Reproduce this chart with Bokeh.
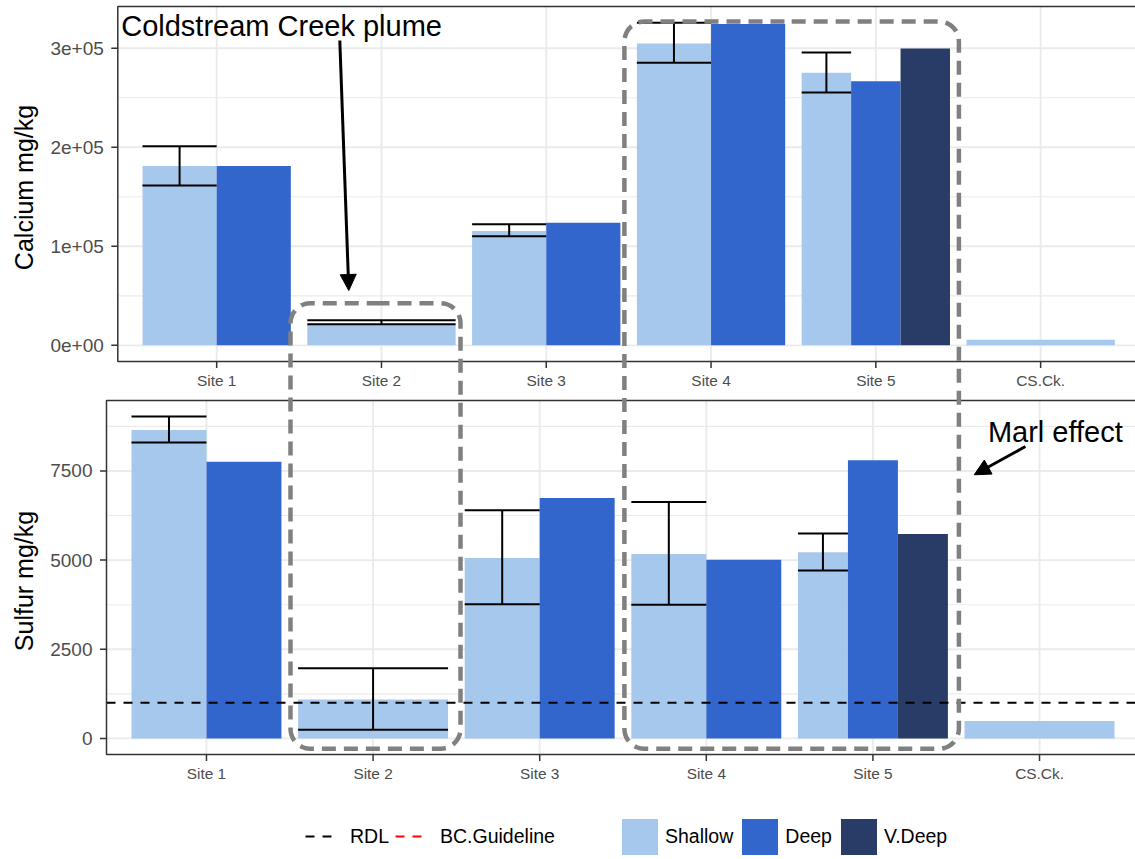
import math
import numpy as np
from bokeh.plotting import figure
from bokeh.models import Range1d, ColumnDataSource, Legend, LegendItem, Arrow, NormalHead
from bokeh.core.properties import value
from bokeh.embed import file_html
from bokeh.resources import INLINE

# ---------------- data ----------------
sites = ["Site 1", "Site 2", "Site 3", "Site 4", "Site 5", "CS.Ck."]
series = ["Shallow", "Deep", "V.Deep"]

ca_shallow = [181000, 20800, 115500, 304700, 275100, 5700]
ca_deep = [181000, None, 123900, 324500, 266700, None]
ca_vdeep = [None, None, None, None, 299700, None]
ca_err_lo = [161300, 21200, 110100, 285400, 255200, None]
ca_err_hi = [201000, 25300, 122200, 325800, 295600, None]

s_shallow = [8650, 1090, 5060, 5170, 5220, 485]
s_deep = [7760, None, 6740, 5010, 7800, None]
s_vdeep = [None, None, None, None, 5735, None]
s_err_lo = [8300, 240, 3765, 3745, 4710, None]
s_err_hi = [9025, 1970, 6400, 6630, 5745, None]

ca_ticks = [0, 100000, 200000, 300000]
s_ticks = [0, 2500, 5000, 7500]
rdl_sulfur = 1000
bc_guideline_sulfur = float("nan")  # no BC guideline drawn in the visible panels

colors = {"Shallow": "#A6C8EC", "Deep": "#3366CC", "V.Deep": "#283C67"}

# ---------------- layout (pixels, y measured downward) ----------------
W, H = 1135, 859
TOP = dict(left=117.3, right=1139.0, top=6.0, bottom=361.0)
BOT = dict(left=106.0, right=1139.0, top=400.0, bottom=754.0)
FONT = value("Liberation Sans")
GRID = "#EBEBEB"
DARK = "#333333"
TICKTXT = "#4D4D4D"


def Y(yd):
    return H - yd


def span_range(v0, v1, p0, p1, total):
    k = (p1 - p0) / (v1 - v0)
    return Range1d(start=v0 - p0 / k, end=v0 + (total - p0) / k)


def limits(*lists):
    vmax = max(v for lst in lists for v in lst if v is not None)
    return -0.05 * vmax, 1.05 * vmax


x_lo, x_hi = 0.4, len(sites) + 0.6
ca_lo, ca_hi = limits(ca_shallow, ca_deep, ca_vdeep, ca_err_hi)
s_lo, s_hi = limits(s_shallow, s_deep, s_vdeep, s_err_hi)

p = figure(width=W, height=H, x_range=Range1d(0, W), y_range=Range1d(0, H),
           x_axis_type=None, y_axis_type=None, output_backend="svg",
           toolbar_location=None, tools="", min_border=0, outline_line_color=None)
p.background_fill_color = "white"
p.border_fill_color = "white"

p.extra_x_ranges = {
    "xt": span_range(x_lo, x_hi, TOP["left"], TOP["right"], W),
    "xb": span_range(x_lo, x_hi, BOT["left"], BOT["right"], W),
}
p.extra_y_ranges = {
    "ca": span_range(ca_lo, ca_hi, Y(TOP["bottom"]), Y(TOP["top"]), H),
    "s": span_range(s_lo, s_hi, Y(BOT["bottom"]), Y(BOT["top"]), H),
}


def dodge(vals):
    out = {s: dict(x=[], top=[], w=[], site=[]) for s in series}
    for i in range(len(sites)):
        present = [s for s in series if vals[s][i] is not None]
        n = len(present)
        w = 0.9 / n
        for j, s in enumerate(present):
            out[s]["x"].append(i + 1 - 0.45 + w * (j + 0.5))
            out[s]["top"].append(vals[s][i])
            out[s]["w"].append(w)
            out[s]["site"].append(i)
    return out


def draw_panel(xr, yr, pan, lo, hi, ticks, tick_labels, label_x, vals, err_lo, err_hi, title):
    # minor + major grid
    step = ticks[1] - ticks[0]
    minors = [t + step / 2 for t in [ticks[0] - step] + ticks]
    minors = [m for m in minors if lo < m < hi]
    p.segment(x0=[x_lo] * len(minors), x1=[x_hi] * len(minors), y0=minors, y1=minors,
              line_color=GRID, line_width=1.1, x_range_name=xr, y_range_name=yr)
    p.segment(x0=[x_lo] * len(ticks), x1=[x_hi] * len(ticks), y0=ticks, y1=ticks,
              line_color=GRID, line_width=1.9, x_range_name=xr, y_range_name=yr)
    pos = list(range(1, len(sites) + 1))
    p.segment(x0=pos, x1=pos, y0=[lo] * len(pos), y1=[hi] * len(pos),
              line_color=GRID, line_width=1.9, x_range_name=xr, y_range_name=yr)

    # bars
    geo = dodge(vals)
    rends = {}
    for s in series:
        src = ColumnDataSource(dict(x=geo[s]["x"], top=geo[s]["top"], w=geo[s]["w"]))
        rends[s] = p.vbar(x="x", top="top", width="w", bottom=0, source=src,
                          fill_color=colors[s], line_color=None,
                          x_range_name=xr, y_range_name=yr)

    # error bars on the shallow series
    g = geo["Shallow"]
    ex, ew, elo, ehi = [], [], [], []
    for x, w, i in zip(g["x"], g["w"], g["site"]):
        if err_lo[i] is not None:
            ex.append(x); ew.append(w); elo.append(err_lo[i]); ehi.append(err_hi[i])
    left = [x - w / 2 for x, w in zip(ex, ew)]
    right = [x + w / 2 for x, w in zip(ex, ew)]
    p.segment(x0=ex, x1=ex, y0=elo, y1=ehi, line_color="black", line_width=2,
              x_range_name=xr, y_range_name=yr)
    p.segment(x0=left, x1=right, y0=elo, y1=elo, line_color="black", line_width=2,
              x_range_name=xr, y_range_name=yr)
    p.segment(x0=left, x1=right, y0=ehi, y1=ehi, line_color="black", line_width=2,
              x_range_name=xr, y_range_name=yr)

    # y ticks and labels
    n = len(ticks)
    p.segment(x0=[pan["left"] - 6.5] * n, x1=[pan["left"]] * n, y0=ticks, y1=ticks,
              line_color=DARK, line_width=1.5, y_range_name=yr)
    p.text(x=[label_x] * n, y=ticks, text=tick_labels, y_range_name=yr,
           text_font=FONT, text_font_size=value("19px"), text_color=TICKTXT,
           text_align="right", text_baseline="middle")
    # x ticks and labels
    m = len(sites)
    p.segment(x0=pos, x1=pos, y0=[Y(pan["bottom"])] * m, y1=[Y(pan["bottom"] + 6.5)] * m,
              line_color=DARK, line_width=1.5, x_range_name=xr)
    p.text(x=pos, y=[Y(pan["bottom"] + 19.2)] * m, text=sites, x_range_name=xr,
           text_font=FONT, text_font_size=value("15.4px"), text_color=TICKTXT,
           text_align="center", text_baseline="middle")
    # axis title
    p.text(x=[23], y=[Y((pan["top"] + pan["bottom"]) / 2)], text=[title], angle=math.pi / 2,
           text_font=FONT, text_font_size=value("25px"), text_color="black",
           text_align="center", text_baseline="middle")
    return rends


top_r = draw_panel("xt", "ca", TOP, ca_lo, ca_hi, ca_ticks,
                   [f"{t:.0e}" for t in ca_ticks], TOP["left"] - 14,
                   {"Shallow": ca_shallow, "Deep": ca_deep, "V.Deep": ca_vdeep},
                   ca_err_lo, ca_err_hi, "Calcium  mg/kg")
bot_r = draw_panel("xb", "s", BOT, s_lo, s_hi, s_ticks,
                   [str(t) for t in s_ticks], BOT["left"] - 14,
                   {"Shallow": s_shallow, "Deep": s_deep, "V.Deep": s_vdeep},
                   s_err_lo, s_err_hi, "Sulfur  mg/kg")

# RDL reference line (bottom panel) and BC guideline (outside the shown data)
rdl = p.line(x=[x_lo, x_hi], y=[rdl_sulfur, rdl_sulfur], line_color="black",
             line_width=2, line_dash="9 8", x_range_name="xb", y_range_name="s")
bc = p.line(x=[x_lo, x_hi], y=[bc_guideline_sulfur, bc_guideline_sulfur], line_color="red",
            line_width=2, line_dash="9 8", x_range_name="xb", y_range_name="s")

# panel borders
p.quad(left=[x_lo], right=[x_hi], bottom=[ca_lo], top=[ca_hi], fill_color=None,
       line_color=DARK, line_width=1.5, x_range_name="xt", y_range_name="ca")
p.quad(left=[x_lo], right=[x_hi], bottom=[s_lo], top=[s_hi], fill_color=None,
       line_color=DARK, line_width=1.5, x_range_name="xb", y_range_name="s")


# highlight boxes (annotation, pixel layout)
def rounded_box(l, r, t, b, rad, n=12):
    xs, ys = [(l + r) / 2], [t]
    corners = [(r - rad, t + rad, -90, 0), (r - rad, b - rad, 0, 90),
               (l + rad, b - rad, 90, 180), (l + rad, t + rad, 180, 270)]
    for cx, cy, a0, a1 in corners:
        for a in np.linspace(a0, a1, n):
            xs.append(cx + rad * math.cos(math.radians(a)))
            ys.append(cy + rad * math.sin(math.radians(a)))
    xs.append((l + r) / 2); ys.append(t)
    return xs, [Y(v) for v in ys]


for box in [(290, 460, 302.7, 748.3), (623.9, 958.4, 21, 748.3)]:
    bx, by = rounded_box(*box, rad=20)
    p.line(x=bx, y=by, line_color="#808080", line_width=4.5, line_dash="14 8")

# annotation texts and arrows
p.text(x=[120.7], y=[Y(25)], text=["Coldstream Creek plume"], text_font=FONT,
       text_font_size=value("29px"), text_color="black", text_align="left",
       text_baseline="middle")
p.text(x=[987.4], y=[Y(431.7)], text=["Marl effect"], text_font=FONT,
       text_font_size=value("29px"), text_color="black", text_align="left",
       text_baseline="middle")
p.add_layout(Arrow(x_start=339.3, y_start=Y(40), x_end=348.3, y_end=Y(290), line_width=3,
                   line_color="black",
                   end=NormalHead(size=16, fill_color="black", line_color="black", line_width=1)))
p.add_layout(Arrow(x_start=1024.9, y_start=Y(446), x_end=973.7, y_end=Y(474.3), line_width=3,
                   line_color="black",
                   end=NormalHead(size=16, fill_color="black", line_color="black", line_width=1)))

# legends
leg_common = dict(orientation="horizontal", padding=0, margin=0, border_line_color=None,
                  background_fill_alpha=0, label_text_font="Liberation Sans",
                  label_text_font_size="19.5px", label_text_color="black")
leg1 = Legend(items=[LegendItem(label="RDL", renderers=[rdl]),
                     LegendItem(label="BC.Guideline", renderers=[bc])],
              location=(305, 5), glyph_width=33, glyph_height=36,
              label_standoff=12, spacing=6, **leg_common)
leg2 = Legend(items=[LegendItem(label=s, renderers=[bot_r[s]]) for s in series],
              location=(617, 0), glyph_width=45, glyph_height=45,
              label_standoff=3, spacing=4, **leg_common)
p.add_layout(leg1)
p.add_layout(leg2)

open("out.html", "w").write(file_html(p, INLINE))
